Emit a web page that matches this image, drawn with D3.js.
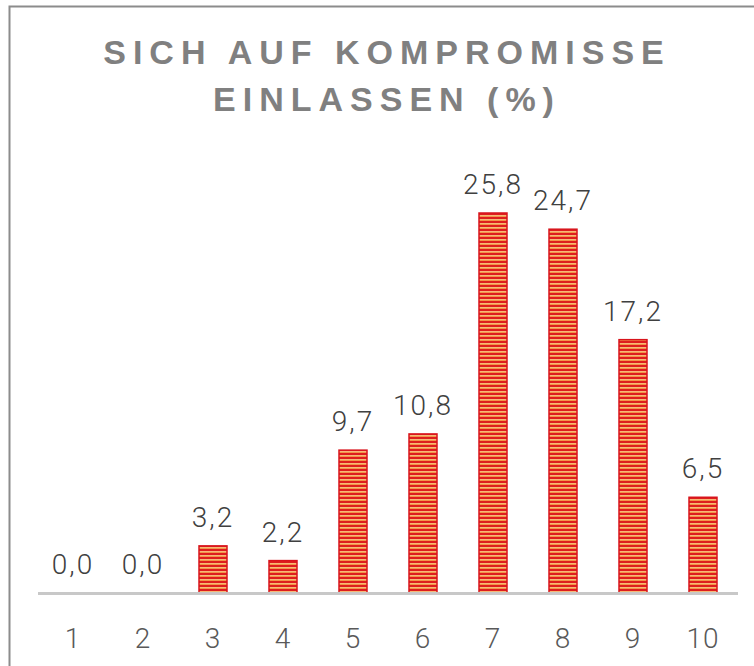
<!DOCTYPE html>
<meta charset="utf-8">
<style>
body { margin: 0; background: #fff; }
svg { display: block; }
.val { font-family: Roboto, "Noto Sans", sans-serif; font-weight: 300; font-size: 28px; fill: #404040; letter-spacing: 2px; }
.tick { font-family: Roboto, "Noto Sans", sans-serif; font-weight: 300; font-size: 28px; fill: #595959; letter-spacing: 1px; }
.title { font-family: "Liberation Sans", Arial, sans-serif; font-weight: bold; font-size: 34px; fill: #808080; letter-spacing: 7px; }
</style>
<body>
<script src="https://cdn.jsdelivr.net/npm/d3@7"></script>
<script>
const categories = ["1", "2", "3", "4", "5", "6", "7", "8", "9", "10"];
const values = [0.0, 0.0, 3.2, 2.2, 9.7, 10.8, 25.8, 24.7, 17.2, 6.5];
const titleLines = ["SICH AUF KOMPROMISSE", "EINLASSEN (%)"];

const W = 754, H = 666;
const baseY = 593;

const rows = categories.map((c, i) => ({cat: c, value: values[i]}));

const svg = d3.select("body").append("svg")
    .attr("width", W)
    .attr("height", H);

// stripe fill: red line + orange/cream band, 4px period
const defs = svg.append("defs");
const grad = defs.append("linearGradient")
    .attr("id", "band")
    .attr("x1", 0).attr("y1", 0).attr("x2", 0).attr("y2", 1);
[[0, "#de1e1e"], [0.38, "#de1e1e"], [0.5, "#f08a3a"], [0.72, "#fcdca8"], [0.9, "#f08a3a"], [1, "#de1e1e"]]
  .forEach(s => grad.append("stop").attr("offset", s[0]).attr("stop-color", s[1]));
defs.append("pattern")
    .attr("id", "stripes")
    .attr("patternUnits", "userSpaceOnUse")
    .attr("width", 8).attr("height", 4)
    .attr("y", baseY)
  .append("rect")
    .attr("width", 8).attr("height", 4)
    .attr("fill", "url(#band)");

// frame
svg.append("rect")
    .attr("x", 9.5).attr("y", 6.5)
    .attr("width", W + 20).attr("height", H + 20)
    .attr("fill", "none")
    .attr("stroke", "#8c8c8c")
    .attr("stroke-width", 2);

svg.append("g").selectAll("text")
    .data(titleLines)
  .enter().append("text")
    .attr("class", "title")
    .attr("x", 387)
    .attr("y", (d, i) => 64 + i * 47)
    .attr("text-anchor", "middle")
    .text(d => d);

const x = d3.scaleBand()
    .domain(categories)
    .range([38, 738])
    .paddingInner(0.6)
    .paddingOuter(0.3);

const y = d3.scaleLinear()
    .domain([0, 25.8])
    .range([baseY, 213]);

svg.append("g").selectAll("rect")
    .data(rows.filter(d => d.value > 0))
  .enter().append("rect")
    .attr("x", d => x(d.cat))
    .attr("y", d => y(d.value))
    .attr("width", x.bandwidth())
    .attr("height", d => baseY - y(d.value))
    .attr("fill", "url(#stripes)")
    .attr("stroke", "#d8141c")
    .attr("stroke-width", 1.5);

// baseline
svg.append("line")
    .attr("x1", 38).attr("x2", 738)
    .attr("y1", baseY + 0.5).attr("y2", baseY + 0.5)
    .attr("stroke", "#c8c8c8")
    .attr("stroke-width", 3);

const axis = svg.append("g")
    .attr("transform", `translate(0,${baseY})`)
    .call(d3.axisBottom(x).tickSize(0).tickPadding(0));
axis.select(".domain").remove();
axis.selectAll("text")
    .attr("class", "tick")
    .attr("fill", null)
    .attr("font-size", null)
    .attr("font-family", null)
    .attr("y", 55)
    .attr("dy", null);

svg.append("g").selectAll("text")
    .data(rows)
  .enter().append("text")
    .attr("class", "val")
    .attr("x", d => x(d.cat) + x.bandwidth() / 2)
    .attr("y", d => y(d.value) - 19)
    .attr("text-anchor", "middle")
    .text(d => d3.format(".1f")(d.value).replace(".", ","));
</script>
